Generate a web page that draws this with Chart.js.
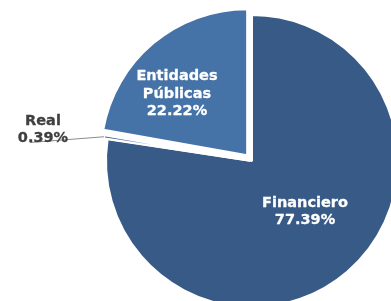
<!DOCTYPE html>
<html>
<head>
<meta charset="utf-8">
<script src="https://cdn.jsdelivr.net/npm/chart.js@4/dist/chart.umd.min.js"></script>
<style>
  html, body { margin: 0; padding: 0; overflow: hidden; background: #ffffff; width: 391px; height: 301px; }
  #wrap { position: absolute; left: 0; top: 0; width: 504px; height: 322px; }
</style>
</head>
<body>
<div id="wrap"><canvas id="c"></canvas></div>
<script>
const categories = ['Financiero', 'Real', 'Entidades Públicas'];
const labelLines = [['Financiero'], ['Real'], ['Entidades', 'Públicas']];
const shares = [77.39, 0.39, 22.22];
const sliceColors = ['#385A87', '#3B6499', '#4572A7'];

// label placement: polar position of the label block centre relative to the pie centre
// (angle in degrees clockwise from top, distance as fraction of radius)
const labelPlacement = [
  { angle: 132.9, dist: 0.4955, color: '#ffffff' },
  { fixed: { x: 43, y: 128 }, color: '#404040', leaderFrom: { x: 30, y: 142.5 } },
  { angle: 312.4, dist: 0.696, color: '#ffffff' }
];

const labelPlugin = {
  id: 'sliceLabels',
  afterDatasetsDraw(chart) {
    const ctx = chart.ctx;
    const meta = chart.getDatasetMeta(0);
    const fontSize = 14.5;
    ctx.save();
    ctx.font = 'bold ' + fontSize + 'px "DejaVu Sans", sans-serif';
    ctx.textAlign = 'center';
    ctx.textBaseline = 'alphabetic';
    ctx.lineJoin = 'round';
    const lineH = 17.5;
    const capH = 0.73 * fontSize;
    meta.data.forEach((arc, i) => {
      const p = labelPlacement[i];
      const lines = labelLines[i].concat([shares[i].toFixed(2) + '%']);
      const r = arc.outerRadius;
      const cx = arc.x, cy = arc.y;
      let x, y;
      if (p.fixed) {
        x = p.fixed.x; y = p.fixed.y;
        const mid = (arc.startAngle + arc.endAngle) / 2;
        const off = (arc.options.offset || 0) / 4;
        const circ = arc.endAngle - arc.startAngle;
        const shift = off * (2 - Math.sin(Math.min(Math.PI, circ)));
        const ex = cx + Math.cos(mid) * (r + shift);
        const ey = cy + Math.sin(mid) * (r + shift);
        ctx.strokeStyle = '#8c8c8c';
        ctx.lineWidth = 1;
        ctx.beginPath();
        ctx.moveTo(p.leaderFrom.x, p.leaderFrom.y);
        ctx.lineTo(ex, ey);
        ctx.stroke();
      } else {
        const a = (p.angle - 90) * Math.PI / 180;
        x = cx + Math.cos(a) * r * p.dist;
        y = cy + Math.sin(a) * r * p.dist;
      }
      ctx.fillStyle = p.color;
      ctx.strokeStyle = p.color;
      ctx.lineWidth = 0.3;
      const firstBase = y - (lines.length - 1) * lineH / 2 + capH / 2;
      lines.forEach((t, k) => {
        ctx.fillText(t, x, firstBase + k * lineH);
        ctx.strokeText(t, x, firstBase + k * lineH);
      });
    });
    ctx.restore();
  }
};

new Chart(document.getElementById('c'), {
  type: 'pie',
  data: {
    labels: categories,
    datasets: [{
      data: shares,
      backgroundColor: sliceColors,
      borderColor: '#ffffff',
      borderWidth: 2,
      offset: [0, 8, 30]
    }]
  },
  options: {
    responsive: true,
    maintainAspectRatio: false,
    animation: false,
    radius: 146,
    layout: { padding: 0 },
    plugins: {
      legend: { display: false },
      tooltip: { enabled: false }
    }
  },
  plugins: [labelPlugin]
});
</script>
</body>
</html>
